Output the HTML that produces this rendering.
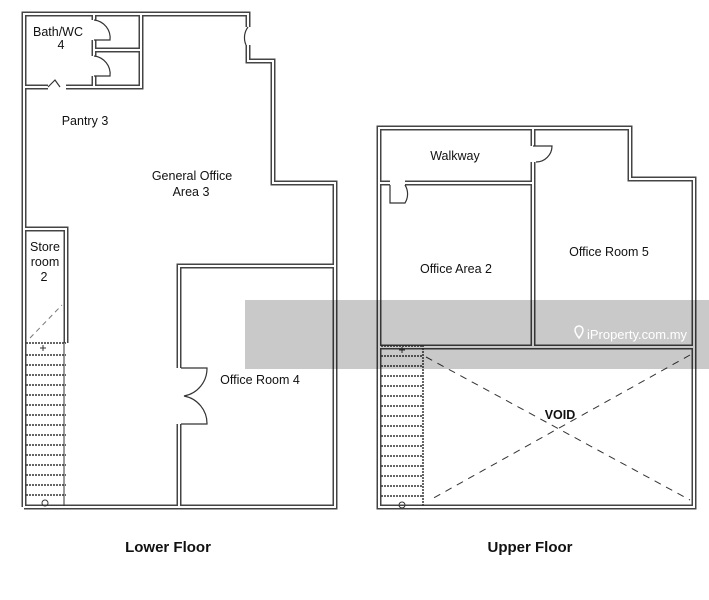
<!DOCTYPE html>
<html><head><meta charset="utf-8"><style>
html,body{margin:0;padding:0;background:#fff;}
svg{display:block;}
text{font-family:"Liberation Sans",Arial,sans-serif;fill:#111;}
</style></head><body>
<svg width="709" height="600" viewBox="0 0 709 600" xmlns="http://www.w3.org/2000/svg">
<defs>
<g id="walls" fill="none">
<path d="M24,507 L24,14 L248,14 L248,27"/>
<path d="M248,45 L248,61 L273,61 L273,183 L335,183 L335,507 L24,507"/>
<path d="M24,87 L48,87 M66,87 L141,87 L141,14"/>
<path d="M94,14 L94,20 M94,40 L94,50 L141,50 M94,50 L94,56 M94,76 L94,87"/>
<path d="M24,229 L66,229 L66,343"/>
<path d="M179,507 L179,424 M179,368 L179,266 L335,266"/>
<path d="M379,507 L379,128 L630,128 L630,179 L694,179 L694,507 Z"/>
<path d="M379,183 L390,183 M405,183 L533,183"/>
<path d="M533,128 L533,146 M533,162 L533,347"/>
<path d="M379,347 L694,347"/>
</g>
</defs>
<use href="#walls" stroke="#444" stroke-width="5"/>
<use href="#walls" stroke="#fff" stroke-width="2"/>

<g fill="none" stroke="#333" stroke-width="1.2">
<path d="M94,20 A18,18 0 0 1 110,40 L94,40"/>
<path d="M94,56 A18,18 0 0 1 110,76 L94,76"/>
<path d="M48,87 L55,80 L60,87"/>
<path d="M248,27 A18,18 0 0 0 246,45"/>
<path d="M181,368 L207,368 A28,28 0 0 1 184,396 A28,28 0 0 1 207,424 L181,424"/>
<path d="M533,146 L552,146 A16,16 0 0 1 536,162"/>
<path d="M390,185 L390,203 L405,203 A17,17 0 0 0 405,185"/>
</g>

<g stroke="#333" stroke-width="1.5" stroke-dasharray="2,1" fill="none">
<path d="M26,343 H66 M26,355 H66 M26,365 H66 M26,375 H66 M26,385 H66 M26,395 H66 M26,405 H66 M26,415 H66 M26,425 H66 M26,435 H66 M26,445 H66 M26,455 H66 M26,465 H66 M26,475 H66 M26,485 H66 M26,495 H66"/>
<path d="M381,346 H423 M381,356 H423 M381,366 H423 M381,376 H423 M381,386 H423 M381,396 H423 M381,406 H423 M381,416 H423 M381,426 H423 M381,436 H423 M381,446 H423 M381,456 H423 M381,466 H423 M381,476 H423 M381,486 H423 M381,496 H423"/>
<path d="M423,345 V506"/>
</g>
<g stroke="#333" stroke-width="1" fill="none">
<path d="M64,343 V506"/>
<path d="M43,345 v6 M40,348 h6"/>
<circle cx="45" cy="503" r="3"/>
<path d="M402,347 v6 M399,350 h6"/>
<circle cx="402" cy="505" r="3"/>
</g>
<path d="M30,338 L62,305" stroke="#777" stroke-width="1" stroke-dasharray="5,4"/>
<g stroke="#333" stroke-width="1" stroke-dasharray="7,6">
<path d="M426,357 L690,500"/>
<path d="M690,355 L430,500"/>
</g>

<g font-size="12.5" text-anchor="middle">
<text x="58" y="36">Bath/WC</text>
<text x="61" y="49">4</text>
<text x="85" y="125">Pantry 3</text>
<text x="192" y="180">General Office</text>
<text x="191" y="196">Area 3</text>
<text x="45" y="251">Store</text>
<text x="45" y="266">room</text>
<text x="44" y="281">2</text>
<text x="260" y="384">Office Room 4</text>
<text x="455" y="160">Walkway</text>
<text x="456" y="273">Office Area 2</text>
<text x="609" y="256">Office Room 5</text>
<text x="560" y="419" font-weight="bold">VOID</text>
</g>
<text x="168" y="552" font-size="15" font-weight="bold" text-anchor="middle">Lower Floor</text>
<text x="530" y="552" font-size="15" font-weight="bold" text-anchor="middle">Upper Floor</text>

<rect x="245" y="300" width="464" height="69" fill="rgba(0,0,0,0.21)"/>
<path d="M575,330 a4,4 0 1 1 8,0 c0,3 -4,8 -4,8 c0,0 -4,-5 -4,-8 z" fill="none" stroke="#fff" stroke-width="1.5"/>
<text x="587" y="339" font-size="13" textLength="100" lengthAdjust="spacingAndGlyphs" style="fill:#fff">iProperty.com.my</text>
</svg>
</body></html>
